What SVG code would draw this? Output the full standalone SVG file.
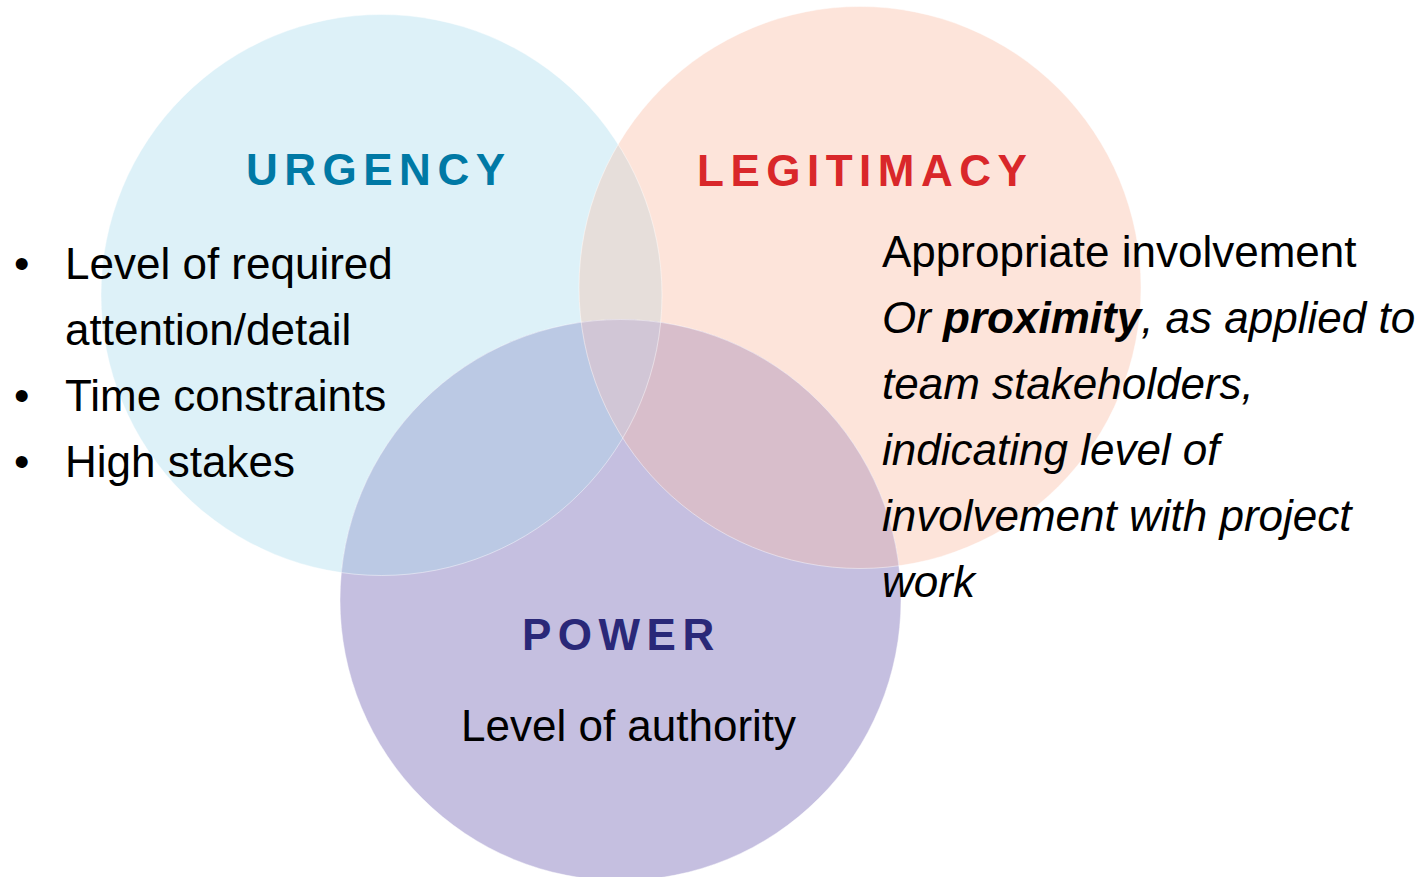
<svg xmlns="http://www.w3.org/2000/svg" width="1426" height="877" viewBox="0 0 1426 877">
  <style>
    .title { font-family: "Liberation Sans", Arial, sans-serif; font-weight: bold; font-size: 44px; letter-spacing: 6.5px; }
    .body { font-family: "Liberation Sans", Arial, sans-serif; font-size: 44px; fill: #000; }
    .it { font-style: italic; }
  </style>
  <defs>
    <clipPath id="clipU"><circle cx="381.5" cy="295" r="280.5"/></clipPath>
    <clipPath id="clipL"><circle cx="860" cy="287.5" r="281"/></clipPath>
    <clipPath id="clipP"><circle cx="620.5" cy="600" r="280.5"/></clipPath>
  </defs>
  <rect width="1426" height="877" fill="#ffffff"/>

  <g id="circles">
    <circle cx="381.5" cy="295" r="280.5" fill="#DDF1F8"/>
    <circle cx="860" cy="287.5" r="281" fill="#FDE4DA"/>
    <circle cx="620.5" cy="600" r="280.5" fill="#C5BFE0"/>
    <g clip-path="url(#clipU)">
      <circle cx="860" cy="287.5" r="281" fill="#E6DEDA"/>
      <circle cx="620.5" cy="600" r="280.5" fill="#BBC9E4"/>
    </g>
    <g clip-path="url(#clipL)">
      <circle cx="620.5" cy="600" r="280.5" fill="#D8BECB"/>
    </g>
    <g clip-path="url(#clipL)">
      <g clip-path="url(#clipU)">
        <circle cx="620.5" cy="600" r="280.5" fill="#D1C6D6"/>
      </g>
    </g>
    <g fill="none" stroke="#ffffff" stroke-opacity="0.45" stroke-width="1">
      <circle cx="381.5" cy="295" r="280.5"/>
      <circle cx="860" cy="287.5" r="281"/>
      <circle cx="620.5" cy="600" r="280.5"/>
    </g>
  </g>

  <g id="urgency">
    <text class="title" x="246" y="185" fill="#0079A5">URGENCY</text>
    <text class="body" x="14" y="279">•</text>
    <text class="body" x="65" y="279">Level of required</text>
    <text class="body" x="65" y="345">attention/detail</text>
    <text class="body" x="14" y="411">•</text>
    <text class="body" x="65" y="411">Time constraints</text>
    <text class="body" x="14" y="477">•</text>
    <text class="body" x="65" y="477">High stakes</text>
  </g>

  <g id="legitimacy">
    <text class="title" x="697" y="186" fill="#D9272A">LEGITIMACY</text>
    <text class="body" x="882" y="267">Appropriate involvement</text>
    <text class="body it" x="882" y="333">Or <tspan font-weight="bold">proximity</tspan>, as applied to</text>
    <text class="body it" x="882" y="399">team stakeholders,</text>
    <text class="body it" x="882" y="465">indicating level of</text>
    <text class="body it" x="882" y="531">involvement with project</text>
    <text class="body it" x="882" y="597">work</text>
  </g>

  <g id="power">
    <text class="title" x="522" y="650" fill="#2A2878">POWER</text>
    <text class="body" x="461" y="741">Level of authority</text>
  </g>

  <g id="connectors"></g>
</svg>
